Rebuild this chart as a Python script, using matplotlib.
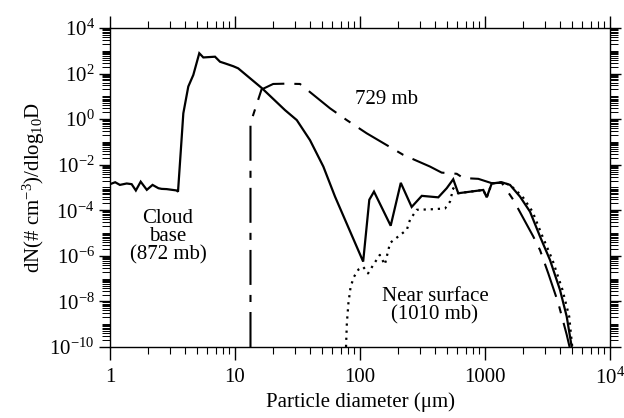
import matplotlib
matplotlib.use("Agg")
import matplotlib.pyplot as plt
import matplotlib.ticker as mticker
import numpy as np

# ---- data ----
cloud_base_d = [1.0, 1.1, 1.2, 1.36, 1.49, 1.61, 1.76, 1.97, 2.19, 2.44, 2.59, 2.84,
                3.42, 3.50, 3.75, 3.86, 4.23, 4.64, 5.18, 5.58, 6.92, 7.59, 8.32, 9.69,
                10.6, 16.4, 25.1, 31.2, 39.8, 50.9, 63.1, 106, 118.7, 129.4, 176, 212,
                259, 312, 423, 494, 557, 611, 969, 1032, 1132, 1361, 1585, 1905, 2291,
                2754, 3311, 3981, 4503, 4939]
cloud_base_n = [1.4e-3, 1.7e-3, 1.3e-3, 1.5e-3, 1.4e-3, 7.4e-4, 1.8e-3, 7.9e-4, 1.3e-3,
                9.3e-4, 8.7e-4, 8.5e-4, 7.4e-4, 6.5e-4, 0.17, 1.8, 27, 87, 780, 510, 550,
                330, 280, 210, 170, 23, 2.5, 0.91, 0.12, 8.3e-3, 4.0e-4, 5.6e-7, 2.9e-4,
                6.6e-4, 2.1e-5, 1.6e-3, 1.4e-4, 4.3e-4, 3.7e-4, 9.3e-4, 2.3e-3, 5.6e-4,
                7.8e-4, 3.7e-4, 1.5e-3, 1.7e-3, 1.3e-3, 4.0e-4, 8.7e-5, 7.1e-6, 6.6e-7,
                3.2e-8, 2.2e-9, 1.0e-10]

mb729_d = [13.3, 13.3, 16.3, 20.2, 25.0, 33.1, 57.5, 78.3, 113, 222, 363, 450, 594, 670,
           884, 1132, 1361, 1683, 2432, 2754, 3208, 3855, 4503, 4750]
mb729_n = [1.0e-10, 0.66, 20, 35, 36, 35, 3.0, 0.91, 0.24, 2.7e-2, 8.3e-3, 4.5e-3,
           4.0e-3, 2.6e-3, 2.4e-3, 1.55e-3, 1.6e-3, 2.9e-4, 7.1e-6, 1.8e-6, 1.7e-7,
           8.5e-9, 3.5e-10, 1.0e-10]

surface_d = [77.3, 78.5, 80.8, 84.2, 89.5, 97.1, 106, 116, 128, 144, 158, 174, 237, 251,
             284, 363, 479, 525, 557, 611, 969, 1032, 1132, 1361, 1585, 1995, 2400, 2884,
             3467, 4169, 4715, 4990]
surface_n = [1.0e-10, 1.1e-9, 8.5e-9, 4.5e-8, 1.2e-7, 2.5e-7, 3.3e-7, 1.7e-7, 4.1e-7,
             1.1e-6, 4.1e-7, 3.7e-6, 1.4e-5, 3.8e-5, 1.05e-4, 1.1e-4, 1.2e-4, 2.4e-4,
             9.3e-4, 5.6e-4, 7.8e-4, 3.7e-4, 1.5e-3, 1.7e-3, 1.3e-3, 4.0e-4, 8.7e-5,
             7.1e-6, 6.6e-7, 3.2e-8, 2.2e-9, 1.0e-10]

x_ticks = [1, 10, 100, 1000, 10000]
x_ticklabels = ["1", "10", "100", "1000", r"10$^{4}$"]
y_ticks = [1e-10, 1e-8, 1e-6, 1e-4, 1e-2, 1e0, 1e2, 1e4]
y_ticklabels = [r"10$^{-10}$", r"10$^{-8}$", r"10$^{-6}$", r"10$^{-4}$",
                r"10$^{-2}$", r"10$^{0}$", r"10$^{2}$", r"10$^{4}$"]

# ---- style ----
plt.rcParams["font.family"] = ["Liberation Serif", "DejaVu Serif"]
plt.rcParams["mathtext.fontset"] = "custom"
plt.rcParams["mathtext.rm"] = "Liberation Serif"
plt.rcParams["mathtext.it"] = "Liberation Serif:italic"
plt.rcParams["font.size"] = 15

fig = plt.figure(figsize=(6.24, 4.18), dpi=100)
ax = fig.add_axes([110 / 624, 1 - 347 / 418, 500 / 624, 319 / 418])

ax.plot(cloud_base_d, cloud_base_n, color="black", lw=1.6, solid_joinstyle="miter")
ax.plot(mb729_d, mb729_n, color="black", lw=1.5,
        linestyle=(0, (16.8, 4.8, 3.4, 4.8)))
ax.plot(surface_d, surface_n, color="black", lw=1.6, linestyle=(0, (1, 2.2)))

ax.set_xscale("log")
ax.set_yscale("log")
ax.set_xlim(1, 1e4)
ax.set_ylim(1e-10, 1e4)

ax.xaxis.set_major_locator(mticker.FixedLocator(x_ticks))
ax.xaxis.set_major_formatter(mticker.FixedFormatter(x_ticklabels))
ax.xaxis.set_minor_locator(mticker.LogLocator(base=10, subs=np.arange(2, 10), numticks=20))
ax.xaxis.set_minor_formatter(mticker.NullFormatter())

ax.yaxis.set_major_locator(mticker.FixedLocator(y_ticks))
ax.yaxis.set_major_formatter(mticker.FixedFormatter(y_ticklabels))
ax.yaxis.set_minor_locator(mticker.LogLocator(base=10, subs=np.arange(1, 10), numticks=40))
ax.yaxis.set_minor_formatter(mticker.NullFormatter())

ax.tick_params(axis="x", which="major", direction="out", length=9, width=1,
               top=True, bottom=True, pad=6, labelsize=15)
ax.tick_params(axis="x", which="minor", direction="out", length=5, width=0.8,
               top=True, bottom=True)
ax.tick_params(axis="y", which="major", direction="out", length=8, width=1,
               left=True, right=True, pad=3, labelsize=15)
ax.tick_params(axis="y", which="minor", direction="out", length=6, width=0.7,
               left=True, right=True)
for s in ax.spines.values():
    s.set_linewidth(1.0)

ax.set_xlabel("Particle diameter (μm)", fontsize=15, labelpad=2)
ax.set_ylabel(r"dN(# cm$^{-3}$)/dlog$_{10}$D", fontsize=15, labelpad=2)

ax.text(164, 7.0, "729 mb", fontsize=15, ha="center", va="center")
ax.text(2.91, 6.8e-6, "Cloud\nbase\n(872 mb)", fontsize=15, ha="center", va="center",
        linespacing=0.95)
ax.text(398, 6.5e-9, "Near surface\n(1010 mb)", fontsize=15, ha="center", va="center",
        linespacing=0.95)

fig.savefig("out.png", dpi=100)
